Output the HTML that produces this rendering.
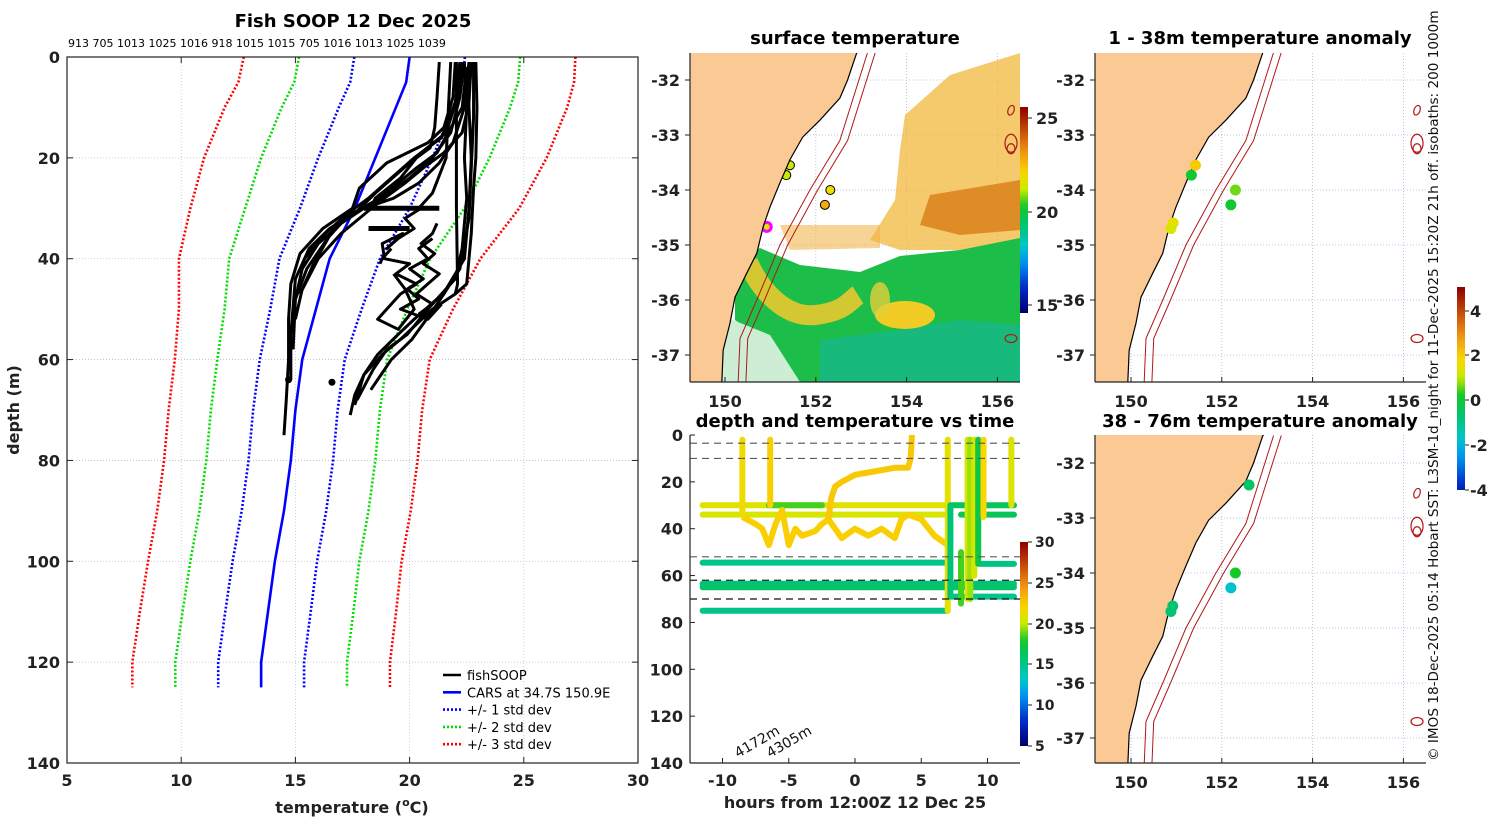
<!DOCTYPE html>
<html><head><meta charset="utf-8"><style>
html,body{margin:0;padding:0;background:#fff;}
svg{display:block;font-family:"DejaVu Sans","Liberation Sans",sans-serif;}
.tk{font-weight:bold;font-size:16px;fill:#222;}
.ttl{font-weight:bold;font-size:18px;fill:#000;}
</style></head><body>
<svg id="fig" width="1500" height="820" viewBox="0 0 1500 820" xmlns="http://www.w3.org/2000/svg">
<rect width="1500" height="820" fill="#fff"/>
</svg>
<script>
// ---------------- DATA ----------------
const carsDepth = [0,5,10,20,30,40,50,60,70,80,90,100,110,120,125];
const carsTemp  = [20.0,19.85,19.4,18.5,17.6,16.5,15.9,15.3,15.0,14.8,14.5,14.1,13.8,13.5,13.5];
const carsStd   = [2.42,2.45,2.5,2.5,2.4,2.2,2.0,1.86,1.85,1.85,1.85,1.85,1.87,1.88,1.88];
const stdMultipliers = [1,2,3];
const xTicksTemp = [5,10,15,20,25,30];
const yTicksDepth = [0,20,40,60,80,100,120,140];
const topLabels = "913 705 1013 1025 1016 918 1015 1015 705 1016 1013 1025 1039";
const fishT = [
 [22.0,21.9,21.5,20.8,19.0,17.8,17.5,16.2,15.2,14.8,14.7,14.7,14.6,14.5],
 [22.3,22.1,21.6,20.5,19.5,18.5,17.6,16.5,15.6,15.0,14.8,14.8],
 [22.4,22.2,21.8,21.0,20.0,18.8,17.5,16.8,16.3,15.8,15.3,15.0],
 [22.5,22.3,21.2,20.3,19.5,18.7,17.9,17.0,16.4,15.5,15.0],
 [22.6,22.4,21.9,21.3,20.4,19.3,18.0,17.0,16.0,15.3],
 [22.9,22.95,22.9,22.8,22.7,22.5,22.0,21.0,20.3,19.6,18.8,18.0,17.6,17.4],
 [22.4,22.5,22.4,22.5,22.3,22.0,21.2,20.2,19.5,18.6,18.0,17.6],
 [22.6,22.6,22.7,22.6,22.4,21.6,20.8,19.9,19.0,18.4,17.7],
 [21.3,21.2,21.1,20.9,20.3,19.6,18.5,18.3],
 [22.05,22.05,22.1,22.0],
 [18.0,21.3],
 [18.2,20.0],
 [20.5,19.8,20.2,19.5,19.0,19.7,18.8,18.9,20.0,19.4,20.3,19.6,19.0,18.6,19.5,20.2,19.8,19.3],
 [21.0,20.4,20.8,20.0,20.6,19.9,20.4,19.6,20.8,21.4],
 [22.2,22.0,21.4,20.2,19.2,18.2,17.3,16.3,15.4,15.0,14.9],
 [22.7,22.6,22.3,21.5,20.6,19.8,18.6,17.8,17.0,16.0,15.2],
 [22.8,22.8,22.7,22.6,22.2,21.5,20.9,20.1,19.2,18.3],
 [21.2,21.0,20.5,21.1,20.6,21.3,20.8,20.3,21.0,20.4],
 [19.2,19.0,18.8,18.7],
 [21.8,21.7,21.6,21.0,20.4]
];
const fishD = [
 [1,8,14,17,21,26,30,34,39,45,52,60,68,75],
 [1,8,15,19,23,27,31,34,38,44,55,64],
 [1,8,15,20,24,28,31,33,37,41,46,52],
 [2,10,19,22,25,28,30,33,36,42,48],
 [1,10,17,21,25,28,30,33,37,42],
 [1,10,20,26,35,45,47,50,53,56,59,63,67,71],
 [1,10,20,28,38,44,48,52,55,59,63,69],
 [1,10,20,30,40,46,50,55,58,62,68],
 [1,8,14,18,20,24,28,30],
 [1,30,45,47],
 [30,30],
 [34,34],
 [30,32,34,36,38,35,37,40,41,43,45,47,50,52,54,50,46,43],
 [36,38,40,42,44,46,48,50,52,49],
 [1,9,16,20,24,28,31,35,40,48,58],
 [1,9,15,19,22,25,29,32,35,40,47],
 [1,12,22,32,42,47,51,56,60,66],
 [33,35,37,39,41,43,45,47,49,51],
 [38,39,40,41],
 [1,10,20,27,30]
];
const fishDotsT = [16.6,14.7];
const fishDotsD = [64.5,64.0];

// depth vs time
const hTicks = [-10,-5,0,5,10];
const dtTicks = [0,20,40,60,80,100,120,140];
const hsegH0 = [-11.5,-6.5,7.0,-11.5,8.0,-11.5,9.5,-11.5,-11.5,7.2,-11.5];
const hsegH1 = [7.0,-2.5,12.0,7.0,12.0,7.0,12.0,12.0,12.0,12.0,7.0];
const hsegD  = [30,30,30,34,34,54.5,55,63.5,65,69,75];
const hsegT  = [21.0,18.5,16.5,20.6,16.5,15.0,15.2,15.6,15.9,15.0,15.0];
const vsegH  = [-8.5,-6.4,7.0,7.2,8.0,8.5,8.7,9.0,9.3,9.7,11.8];
const vsegD0 = [2,2,2,30,50,2,2,2,2,2,2];
const vsegD1 = [34,30,75,69,72,70,70,60,55,35,30];
const vsegT  = [21.6,22.3,21.2,15.5,18.5,20.5,19.5,20.5,17.0,22.0,20.8];
const wigH = [-8.5,-7.5,-7,-6.5,-6,-5.5,-5,-4.5,-4,-3,-2.5,-2,-1.5,-1,0,1,2,3,3.5,4,5,6,7];
const wigD = [35,38,40,47,38,32,47,40,43,41,38,36,40,44,40,43,40,44,36,34,36,43,47];
const riseH = [-2,-1.8,-1.5,-1,0,1,2,3,4,4.2,4.3];
const riseD = [36,27,22,20,17,16,15,14,14,10,0];
const dashDepths = [3.5,10,52,62,70];
const dashColors = ["#555","#655","#655","#222","#111"];

// maps
const coastLon = [152.90,152.70,152.53,152.09,151.71,151.43,151.21,150.99,150.84,150.70,150.48,150.22,150.11,149.96,149.93];
const coastLat = [-31.51,-32.0,-32.33,-32.73,-33.04,-33.45,-33.87,-34.31,-34.67,-35.15,-35.51,-35.95,-36.42,-36.91,-37.49];
const isoLon = [153.14,152.53,151.87,151.21,150.70,150.33,150.29];
const isoLat = [-31.5,-33.1,-34.0,-35.0,-36.0,-36.7,-37.5];
const lonTicks = [150,152,154,156];
const latTicks = [-32,-33,-34,-35,-36,-37];
const sstDotLon = [151.43,151.35,152.32,152.2,150.92];
const sstDotLat = [-33.55,-33.73,-34.0,-34.27,-34.67];
const sstDotT = [21.3,21.2,21.8,22.8,21.6];
const anomTopLon = [151.42,151.33,152.3,152.2,150.93,150.88];
const anomTopLat = [-33.55,-33.73,-34.0,-34.27,-34.6,-34.7];
const anomTopV = [2.0,0.1,0.6,0.1,1.5,1.3];
const anomBotLon = [152.6,152.3,152.2,150.92,150.88];
const anomBotLat = [-32.4,-34.0,-34.27,-34.6,-34.7];
const anomBotV = [-0.6,0.2,-1.8,-0.7,-0.7];

// ---------------- HELPERS ----------------
const svg = document.getElementById('fig');
const NS = 'http://www.w3.org/2000/svg';
function mk(tag, attrs, parent){
  const e = document.createElementNS(NS, tag);
  for (const k in attrs) e.setAttribute(k, attrs[k]);
  (parent||svg).appendChild(e); return e;
}
function txt(s, x, y, attrs, parent){ const e = mk('text', Object.assign({x:x,y:y}, attrs||{}), parent); e.textContent = s; return e; }
const CM = [[0,[0,0,110]],[0.12,[0,40,200]],[0.25,[0,150,240]],[0.33,[0,200,200]],[0.42,[0,195,120]],[0.52,[20,200,40]],[0.6,[200,235,0]],[0.68,[250,215,0]],[0.78,[240,150,20]],[0.88,[200,80,10]],[1,[140,0,0]]];
function jet(v){
  v = Math.max(0, Math.min(1, v));
  for (let i=1;i<CM.length;i++){
    if (v <= CM[i][0]){
      const a = CM[i-1], b = CM[i], f = (v-a[0])/(b[0]-a[0]);
      const c = a[1].map((x,k)=>Math.round(x + f*(b[1][k]-x)));
      return 'rgb(' + c.join(',') + ')';
    }
  }
  return 'rgb(140,0,0)';
}
function gradient(id, v0, v1){
  let defs = svg.querySelector('defs') || mk('defs', {});
  const g = mk('linearGradient', {id:id, x1:0, y1:1, x2:0, y2:0}, defs);
  for (let i=0;i<=30;i++) mk('stop', {offset: (i/30), 'stop-color': jet(v0 + (v1-v0)*i/30)}, g);
}
gradient('jetg', 0, 1);
gradient('sstg', 0.0, 1.0);
gradient('anomg', 0.1, 1.0);

// ---------------- PANEL 1 ----------------
const P1 = {x0:67, x1:638, y0:57, y1:763};
const tx = t => P1.x0 + (t-5)/25*(P1.x1-P1.x0);
const dy = d => P1.y0 + d/140*(P1.y1-P1.y0);
const g1 = mk('g', {});


for (const t of xTicksTemp) {
  const l = mk('line', {x1:tx(t), x2:tx(t), y1:P1.y0, y2:P1.y1, stroke:'#b8c4ee', 'stroke-width':0.8, 'stroke-dasharray':'1,2'}, g1);
   
  const lab = txt(t, tx(t), 786, {class:'tk', 'text-anchor':'middle'}, g1);
   
  mk('line', {x1:tx(t), x2:tx(t), y1:P1.y1, y2:P1.y1-6, stroke:'#222'}, g1);
  mk('line', {x1:tx(t), x2:tx(t), y1:P1.y0, y2:P1.y0+6, stroke:'#222'}, g1);
}
for (const d of yTicksDepth) {
  const l = mk('line', {x1:P1.x0, x2:P1.x1, y1:dy(d), y2:dy(d), stroke:'#c8b8c8', 'stroke-width':0.8, 'stroke-dasharray':'1,2'}, g1);
   
  const lab = txt(d, 60, dy(d)+6, {class:'tk', 'text-anchor':'end'}, g1);
   
  mk('line', {x1:P1.x0, x2:P1.x0+6, y1:dy(d), y2:dy(d), stroke:'#222'}, g1);
  mk('line', {x1:P1.x1, x2:P1.x1-6, y1:dy(d), y2:dy(d), stroke:'#222'}, g1);
}
const sdCols = ['#0000ff','#00dd00','#ff0000'];
for (let k=0;k<stdMultipliers.length;k++){
  for (const s of [-1,1]){
    const pts = carsDepth.map((d,i)=> tx(carsTemp[i] + s*stdMultipliers[k]*carsStd[i]) + ',' + dy(d)).join(' ');
    const pl = mk('polyline', {points:pts, fill:'none', stroke:sdCols[k], 'stroke-width':2.6, 'stroke-dasharray':'2,2'}, g1);
    
    
  }
}
{
  const pts = carsDepth.map((d,i)=> tx(carsTemp[i]) + ',' + dy(d)).join(' ');
  const pl = mk('polyline', {points:pts, fill:'none', stroke:'#0000ff', 'stroke-width':2.6}, g1);
  
  
}
for (let p=0;p<fishT.length;p++){
  const pts = fishT[p].map((t,i)=> tx(t) + ',' + dy(fishD[p][i])).join(' ');
  const w = (p===10||p===11) ? 5 : 3;
  const pl = mk('polyline', {points:pts, fill:'none', stroke:'#000', 'stroke-width':w, 'stroke-linejoin':'round'}, g1);
  
  
}
for (let i=0;i<fishDotsT.length;i++){
  const c = mk('circle', {cx:tx(fishDotsT[i]), cy:dy(fishDotsD[i]), r:3.5, fill:'#000'}, g1);
  
  
}
mk('rect', {x:P1.x0, y:P1.y0, width:P1.x1-P1.x0, height:P1.y1-P1.y0, fill:'none', stroke:'#222', 'stroke-width':1.2}, g1);
</script>
<script>
(function(){
  let e = txt('Fish SOOP 12 Dec 2025', 353, 27, {class:'ttl', 'text-anchor':'middle'});
   
  e = txt(topLabels, 68, 47, {'font-size':'11px', fill:'#000'});
   
  e = txt('depth (m)', 0, 0, {class:'tk', 'font-size':'17px', 'text-anchor':'middle', transform:'translate(19,410) rotate(-90)'});
   
  e = mk('text', {x:352, y:813, class:'tk', 'font-size':'17px', 'text-anchor':'middle'});
  e.innerHTML = 'temperature (<tspan font-size="11" dy="-7">o</tspan><tspan dy="7">C)</tspan>';
   
  const items = [['fishSOOP','#000',''],['CARS at 34.7S 150.9E','#0000ff',''],['+/- 1 std dev','#0000ff','2,2'],['+/- 2 std dev','#00dd00','2,2'],['+/- 3 std dev','#ff0000','2,2']];
  const lg = mk('g', {});
   
  items.forEach((it,i)=>{
    const y = 675 + i*17.3;
    const ent = mk('g', {}, lg);
     
    mk('line', {x1:443, x2:461, y1:y, y2:y, stroke:it[1], 'stroke-width':2.6, 'stroke-dasharray':it[2]||'none'}, ent);
    txt(it[0], 467, y+5, {'font-size':'13px', fill:'#000'}, ent);
  });
})();

function makeMap(name, bx0, by0, bx1, by1, lon150x, latm32y){
  const X = lon => lon150x + (lon-150)*45.4;
  const Y = lat => latm32y + (-32-lat)*55;
  const g = mk('g', {});
   
  const cid = 'clip_' + name;
  const cp = mk('clipPath', {id:cid}, g);
  mk('rect', {x:bx0, y:by0, width:bx1-bx0, height:by1-by0}, cp);
  const inner = mk('g', {'clip-path':'url(#'+cid+')'}, g);
  return {g, inner, X, Y, bx0, by0, bx1, by1};
}
function drawBase(m){
  for (const lo of lonTicks){
    mk('line', {x1:m.X(lo), x2:m.X(lo), y1:m.by0, y2:m.by1, stroke:'#aab4dd', 'stroke-width':0.8, 'stroke-dasharray':'1,2'}, m.inner);
    const lab = txt(lo, m.X(lo), m.by1+25, {class:'tk', 'text-anchor':'middle'}, m.g);
     
    mk('line', {x1:m.X(lo), x2:m.X(lo), y1:m.by1, y2:m.by1-5, stroke:'#222'}, m.g);
  }
  for (const la of latTicks){
    mk('line', {x1:m.bx0, x2:m.bx1, y1:m.Y(la), y2:m.Y(la), stroke:'#aab4dd', 'stroke-width':0.8, 'stroke-dasharray':'1,2'}, m.inner);
    const lab = txt(la, m.bx0-10, m.Y(la)+6, {class:'tk', 'text-anchor':'end'}, m.g);
     
    mk('line', {x1:m.bx0-5, x2:m.bx0, y1:m.Y(la), y2:m.Y(la), stroke:'#222'}, m.g);
  }
}
function drawLand(m){
  let pts = coastLon.map((lo,i)=> m.X(lo)+','+m.Y(coastLat[i]));
  pts.push(m.X(148.5)+','+m.Y(-37.6)); pts.push(m.X(148.5)+','+m.Y(-31.4)); pts.push(m.X(153.0)+','+m.Y(-31.4));
  const land = mk('polygon', {points:pts.join(' '), fill:'#fbc994', stroke:'#000', 'stroke-width':1.2}, m.inner);
   
  for (const off of [0, 0.17]){
    const p = isoLon.map((lo,i)=> m.X(lo+off)+','+m.Y(isoLat[i])).join(' ');
    const iso = mk('polyline', {points:p, fill:'none', stroke:'#b01818', 'stroke-width':1}, m.inner);
     
  }
  mk('ellipse', {cx:m.X(156.3), cy:m.Y(-32.55), rx:3, ry:5, fill:'none', stroke:'#b01818', 'stroke-width':1.2, transform:'rotate(20 '+m.X(156.3)+' '+m.Y(-32.55)+')'}, m.inner);
  mk('ellipse', {cx:m.X(156.3), cy:m.Y(-33.15), rx:6, ry:9, fill:'none', stroke:'#b01818', 'stroke-width':1.2}, m.inner);
  mk('ellipse', {cx:m.X(156.3), cy:m.Y(-33.25), rx:4, ry:5, fill:'none', stroke:'#b01818', 'stroke-width':1.2}, m.inner);
  mk('ellipse', {cx:m.X(156.3), cy:m.Y(-36.7), rx:6, ry:4, fill:'none', stroke:'#b01818', 'stroke-width':1.2}, m.inner);
}
function frame(m){
  mk('line', {x1:m.bx0, x2:m.bx1, y1:m.by1, y2:m.by1, stroke:'#222', 'stroke-width':1.2}, m.g);
  mk('line', {x1:m.bx0, x2:m.bx0, y1:m.by0, y2:m.by1, stroke:'#222', 'stroke-width':1.2}, m.g);
}

// ---- SST map ----
const sst = makeMap('sst-map', 690, 53, 1020, 382, 725, 80);
drawBase(sst);
(function(){
  const I = sst.inner;
  const add = (tag, a, n) => { const e = mk(tag, a, I);   return e; };
  add('polygon', {points:'905,115 950,75 1020,53 1020,245 960,250 900,250 870,240 895,200 900,150', fill:'#f2b83c', opacity:0.75}, 'sst-warm-patch');
  add('polygon', {points:'930,195 1020,180 1020,230 960,235 920,225', fill:'#d9821a', opacity:0.85}, 'sst-warm-core');
  add('polygon', {points:'780,225 880,225 880,248 790,250', fill:'#f1b040', opacity:0.55}, 'sst-warm-patch');
  add('polygon', {points:'735,262 760,248 800,265 860,272 900,256 960,250 1020,238 1020,382 800,382 770,345 735,320', fill:'#1cbd48'}, 'sst-green-region');
  add('polygon', {points:'820,340 900,330 960,320 1020,325 1020,382 820,382', fill:'#18b88a', opacity:0.8}, 'sst-teal-region');
  add('polygon', {points:'728,318 770,335 800,382 720,382', fill:'#cdeed4'}, 'sst-sparse-region');
  add('path', {d:'M748,262 C760,290 785,318 815,315 S850,300 858,295', fill:'none', stroke:'#e8c830', 'stroke-width':20, opacity:0.9}, 'sst-warm-filament');
  add('ellipse', {cx:905, cy:315, rx:30, ry:14, fill:'#f0cc24'}, 'sst-warm-eddy');
  add('ellipse', {cx:880, cy:300, rx:10, ry:18, fill:'#e3d03a', opacity:0.8}, 'sst-warm-eddy');
  for (let i=0;i<sstDotLon.length;i++){
    add('circle', {cx:sst.X(sstDotLon[i]), cy:sst.Y(sstDotLat[i]), r:4.5, fill:jet((sstDotT[i]-14.6)/11), stroke: i===4?'#ff00ff':'#000', 'stroke-width': i===4?3:1}, 'sst-station');
  }
})();
drawLand(sst);
frame(sst);
(function(){
  let e = txt('surface temperature', 855, 44, {class:'ttl', 'text-anchor':'middle'});
   
  e = mk('rect', {x:1020, y:107, width:8, height:206, fill:'url(#sstg)'});
   
  [[25,118],[20,212],[15,305]].forEach(v=>{
    const l = txt(v[0], 1036, v[1]+6, {class:'tk'});  
    mk('line', {x1:1028, x2:1032, y1:v[1], y2:v[1], stroke:'#222'});
  });
})();

function anomMap(name, by0, by1, latY, lons, lats, vals, title, titleY){
  const m = makeMap(name, 1095, by0, 1426, by1, 1131, latY);
  drawBase(m);
  drawLand(m);
  for (let i=0;i<lons.length;i++){
    const c = mk('circle', {cx:m.X(lons[i]), cy:m.Y(lats[i]), r:5.5, fill:jet((vals[i]+5)/10)}, m.inner);
    
    
  }
  frame(m);
  const t = txt(title, 1260, titleY, {class:'ttl', 'text-anchor':'middle'});
   
}
anomMap('anomaly-map-shallow', 53, 382, 80, anomTopLon, anomTopLat, anomTopV, '1 - 38m temperature anomaly', 44);
anomMap('anomaly-map-deep', 435, 763, 463, anomBotLon, anomBotLat, anomBotV, '38 - 76m temperature anomaly', 427);
(function(){
  let e = mk('rect', {x:1457, y:287, width:8, height:203, fill:'url(#anomg)'});
   
  [[4,311],[2,355],[0,400],[-2,445],[-4,490]].forEach(v=>{
    const l = txt(v[0], 1470, v[1]+6, {class:'tk', 'font-size':'14px'});  
    mk('line', {x1:1465, x2:1469, y1:v[1], y2:v[1], stroke:'#222'});
  });
  e = txt('\u00a9 IMOS 18-Dec-2025 05:14 Hobart SST: L3SM-1d_night for 11-Dec-2025 15:20Z 21h off. isobaths: 200  1000m', 0, 0, {'font-size':'13.6px', fill:'#111', transform:'translate(1438,761) rotate(-90)'});
   
})();

// ---------------- DEPTH vs TIME ----------------
(function(){
  const B = {x0:690, x1:1020, y0:435, y1:763};
  const hx = h => 855 + h*13.25;
  const dd = d => B.y0 + d/140*(B.y1-B.y0);
  const tc = t => jet((t-5)/25);
  const g = mk('g', {});
   
  for (const h of hTicks){
    const l = txt(h, hx(h), 786, {class:'tk', 'text-anchor':'middle'}, g);
     
    mk('line', {x1:hx(h), x2:hx(h), y1:B.y1, y2:B.y1-5, stroke:'#222'}, g);
  }
  for (const d of dtTicks){
    const l = txt(d, 683, dd(d)+6, {class:'tk', 'text-anchor':'end'}, g);
     
    mk('line', {x1:B.x0, x2:B.x0+5, y1:dd(d), y2:dd(d), stroke:'#222'}, g);
  }
  for (let i=0;i<hsegD.length;i++){
    const l = mk('line', {x1:hx(hsegH0[i]), x2:hx(hsegH1[i]), y1:dd(hsegD[i]), y2:dd(hsegD[i]), stroke:tc(hsegT[i]), 'stroke-width':6, 'stroke-linecap':'round'}, g);
     
  }
  let pl = mk('polyline', {points: wigH.map((h,i)=>hx(h)+','+dd(wigD[i])).join(' '), fill:'none', stroke:tc(22.3), 'stroke-width':6, 'stroke-linejoin':'round'}, g);
   
  pl = mk('polyline', {points: riseH.map((h,i)=>hx(h)+','+dd(riseD[i])).join(' '), fill:'none', stroke:tc(22.6), 'stroke-width':6, 'stroke-linejoin':'round'}, g);
   
  for (let i=0;i<vsegH.length;i++){
    const l = mk('line', {x1:hx(vsegH[i]), x2:hx(vsegH[i]), y1:dd(vsegD0[i]), y2:dd(vsegD1[i]), stroke:tc(vsegT[i]), 'stroke-width':6, 'stroke-linecap':'round'}, g);
     
  }
  for (let i=0;i<dashDepths.length;i++){
    const l = mk('line', {x1:B.x0, x2:B.x1, y1:dd(dashDepths[i]), y2:dd(dashDepths[i]), stroke:dashColors[i], 'stroke-width':1.2, 'stroke-dasharray':'7,5'}, g);
     
  }
  mk('line', {x1:B.x0, x2:B.x1, y1:B.y1, y2:B.y1, stroke:'#222', 'stroke-width':1.2}, g);
  mk('line', {x1:B.x0, x2:B.x0, y1:B.y0, y2:B.y1, stroke:'#222', 'stroke-width':1.2}, g);
  let e = txt('4172m', 0, 0, {'font-size':'14px', fill:'#111', transform:'translate(738,758) rotate(-30)'}, g);
   
  e = txt('4305m', 0, 0, {'font-size':'14px', fill:'#111', transform:'translate(770,758) rotate(-30)'}, g);
   
  e = txt('depth and temperature vs time', 855, 427, {class:'ttl', 'text-anchor':'middle'});
   
  e = txt('hours from 12:00Z 12 Dec 25', 855, 808, {class:'tk', 'font-size':'17px', 'text-anchor':'middle'});
   
  e = mk('rect', {x:1020, y:542, width:8, height:204, fill:'url(#jetg)'});
   
  [[30,542],[25,583],[20,624],[15,664],[10,705],[5,746]].forEach(v=>{
    const l = txt(v[0], 1035, v[1]+5, {'font-size':'14px', 'font-weight':'bold', fill:'#222'});  
    mk('line', {x1:1028, x2:1032, y1:v[1], y2:v[1], stroke:'#222'});
  });
})();
</script>
</body></html>
